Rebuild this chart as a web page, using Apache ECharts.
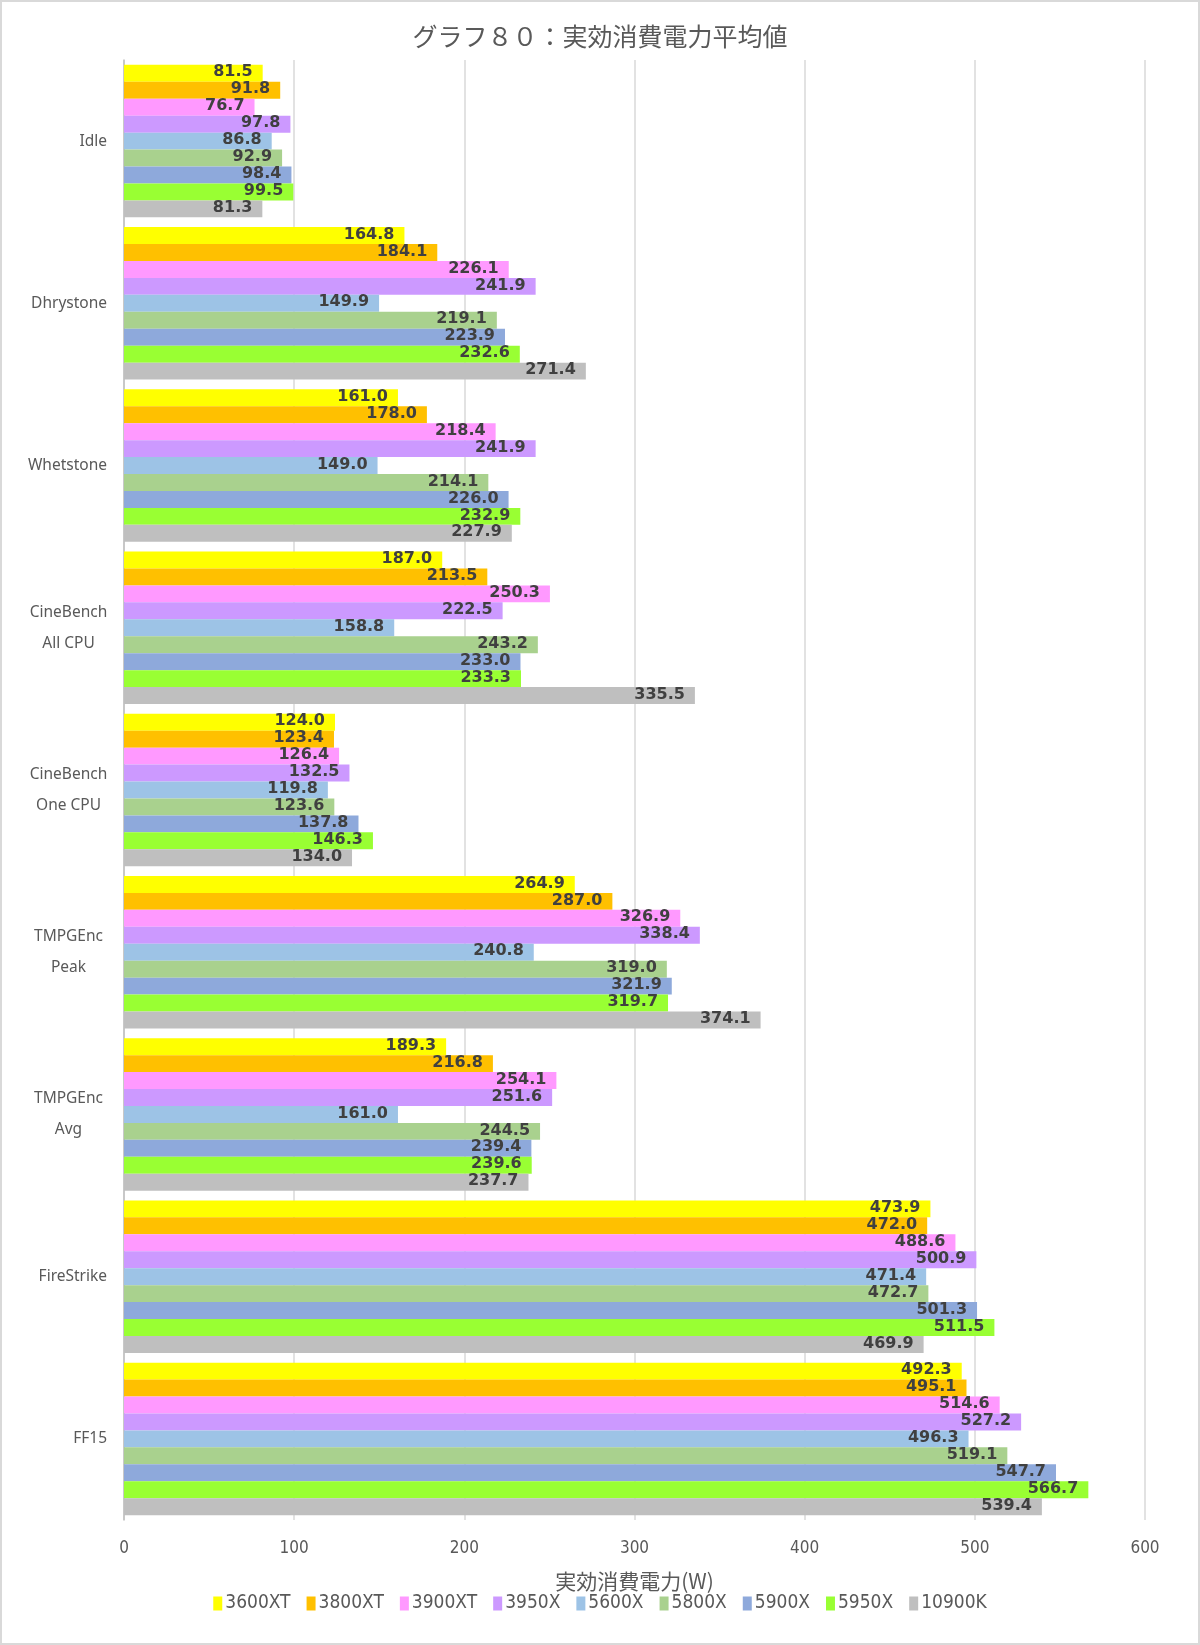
<!DOCTYPE html>
<html>
<head>
<meta charset="utf-8">
<script src="https://cdn.jsdelivr.net/npm/echarts@6/dist/echarts.min.js"></script>
<style>
html,body{margin:0;padding:0;background:#fff;}
#frame{width:1200px;height:1645px;box-sizing:border-box;border:2px solid #d9d9d9;position:relative;}
#chart{position:absolute;left:-2px;top:-2px;width:1200px;height:1645px;}
</style>
</head>
<body>
<div id="frame"><div id="chart"></div></div>
<script>
const categories = ['Idle', 'Dhrystone', 'Whetstone', 'CineBench\nAll CPU', 'CineBench\nOne CPU', 'TMPGEnc\nPeak', 'TMPGEnc\nAvg', 'FireStrike', 'FF15'];
const seriesNames = ['3600XT', '3800XT', '3900XT', '3950X', '5600X', '5800X', '5900X', '5950X', '10900K'];
const s3600XT = [81.5, 164.8, 161.0, 187.0, 124.0, 264.9, 189.3, 473.9, 492.3];
const s3800XT = [91.8, 184.1, 178.0, 213.5, 123.4, 287.0, 216.8, 472.0, 495.1];
const s3900XT = [76.7, 226.1, 218.4, 250.3, 126.4, 326.9, 254.1, 488.6, 514.6];
const s3950X  = [97.8, 241.9, 241.9, 222.5, 132.5, 338.4, 251.6, 500.9, 527.2];
const s5600X  = [86.8, 149.9, 149.0, 158.8, 119.8, 240.8, 161.0, 471.4, 496.3];
const s5800X  = [92.9, 219.1, 214.1, 243.2, 123.6, 319.0, 244.5, 472.7, 519.1];
const s5900X  = [98.4, 223.9, 226.0, 233.0, 137.8, 321.9, 239.4, 501.3, 547.7];
const s5950X  = [99.5, 232.6, 232.9, 233.3, 146.3, 319.7, 239.6, 511.5, 566.7];
const s10900K = [81.3, 271.4, 227.9, 335.5, 134.0, 374.1, 237.7, 469.9, 539.4];
const seriesValues = [s3600XT, s3800XT, s3900XT, s3950X, s5600X, s5800X, s5900X, s5950X, s10900K];
const colors = ['#FFFF00', '#FFC000', '#FF99FF', '#CC99FF', '#9DC3E6', '#A9D18E', '#8EA9DB', '#99FF33', '#BFBFBF'];
const xTicks = [0, 100, 200, 300, 400, 500, 600];

const narrow = '"DejaVu Sans Condensed", "Liberation Sans Narrow", sans-serif';
const chart = echarts.init(document.getElementById('chart'));
chart.setOption({
  backgroundColor: 'transparent',
  animation: false,
  color: colors,
  title: {
    text: 'グラフ８０：実効消費電力平均値',
    left: 'center',
    top: 19,
    textStyle: { fontFamily: '"Noto Sans CJK JP", sans-serif', fontSize: 25, fontWeight: 'normal', color: '#595959' }
  },
  legend: {
    bottom: 27,
    left: 'center',
    itemWidth: 9,
    itemHeight: 14,
    itemGap: 16,
    icon: 'rect',
    textStyle: { fontFamily: narrow, fontSize: 19, color: '#595959', padding: [0, 0, 0, -2] },
    data: seriesNames
  },
  grid: { left: 124, right: 55, top: 60, bottom: 125, containLabel: false },
  xAxis: {
    type: 'value',
    min: xTicks[0],
    max: xTicks[xTicks.length - 1],
    interval: 100,
    name: '実効消費電力(W)',
    nameLocation: 'middle',
    nameGap: 51,
    nameTextStyle: { fontFamily: '"Noto Sans CJK JP", sans-serif', fontSize: 21, color: '#595959' },
    axisLine: { show: false },
    axisTick: { show: false },
    axisLabel: { fontFamily: narrow, fontSize: 17, color: '#595959', margin: 20 },
    splitLine: { show: true, lineStyle: { color: '#d9d9d9', width: 1.5 } }
  },
  yAxis: {
    type: 'category',
    data: categories,
    inverse: true,
    axisLine: { show: true, lineStyle: { color: '#bfbfbf', width: 1.5 } },
    axisTick: { show: false },
    axisLabel: {
      margin: 17,
      align: 'right',
      formatter: v => v.indexOf('\n') >= 0 ? v.split('\n').map(s => '{m|' + s + '}').join('\n') : '{s|' + v + '}',
      rich: {
        m: { fontFamily: '"Noto Sans", sans-serif', fontSize: 15.5, color: '#595959', lineHeight: 31, width: 77, align: 'center' },
        s: { fontFamily: '"Noto Sans", sans-serif', fontSize: 15.5, color: '#595959', lineHeight: 31 }
      }
    }
  },
  series: seriesNames.map((name, i) => ({
    name: name,
    type: 'bar',
    data: seriesValues[i],
    barGap: '0%',
    barCategoryGap: '6%',
    itemStyle: { color: colors[i] },
    label: {
      show: true,
      position: 'insideRight',
      distance: 10,
      offset: [0, -1],
      formatter: p => p.value.toFixed(1),
      fontFamily: '"DejaVu Sans", Verdana, sans-serif',
      fontWeight: 'bold',
      fontSize: 16,
      color: '#404040'
    }
  }))
});
</script>
</body>
</html>
